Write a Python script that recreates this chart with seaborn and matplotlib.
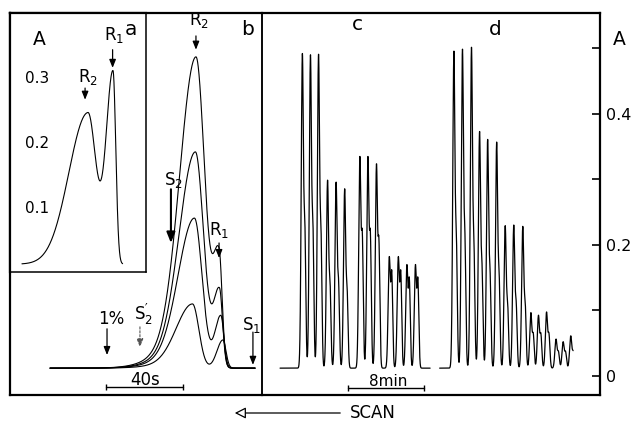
import numpy as np
import pandas as pd
import matplotlib
matplotlib.use("Agg")
import matplotlib.pyplot as plt
import seaborn as sns

# ---------------------------------------------------------------- data
baseline = 0.012                      # recorder baseline, absorbance

# (a) single elution profile: apex times (s) and absorbance of R2, R1
a_peak_t = [40.5, 53.5]
a_peak_A = [0.245, 0.308]

# (b) four overlaid elution profiles (decreasing load), times in s
b_r2_t = [96.6, 96.3, 95.8, 94.8]
b_r2_A = [0.487, 0.342, 0.241, 0.110]
b_r2_tail = [4.6, 4.3, 4.0, 3.3]      # trailing width of R2, s
b_r1_t = [108.6, 108.8, 109.5, 110.6]
b_r1_A = [0.180, 0.130, 0.092, 0.055]

# (c) repeated injections: apex times (min), R2 apex and R1 shoulder absorbance
c_t = [4.25, 5.1, 5.95, 6.9, 7.8, 8.7, 10.3, 11.15, 12.05, 13.4, 14.35, 15.25, 16.15]
c_r2 = [0.489, 0.487, 0.488, 0.297, 0.294, 0.284, 0.332, 0.332, 0.321,
        0.180, 0.180, 0.168, 0.168]
c_r1 = [0.21, 0.21, 0.20, 0.13, 0.13, 0.12, 0.20, 0.20, 0.19,
        0.15, 0.15, 0.14, 0.14]

# (d) repeated injections, second series
d_t = [20.2, 21.1, 22.05, 22.9, 23.75, 24.7, 25.6, 26.5, 27.45,
       28.3, 29.1, 29.95, 30.95, 31.7, 32.5]
d_r2 = [0.493, 0.496, 0.499, 0.371, 0.359, 0.355, 0.228, 0.229, 0.227,
        0.096, 0.092, 0.097, 0.056, 0.052, 0.061]
d_r1 = [0.19, 0.19, 0.18, 0.15, 0.14, 0.14, 0.10, 0.10, 0.10,
        0.06, 0.06, 0.06, 0.035, 0.035, 0.035]

right_ticks = [0, 0.2, 0.4]
right_minor = [0.1, 0.3, 0.5]
inset_ticks = [0.1, 0.2, 0.3]


# ---------------------------------------------------------------- peak shapes
def band(t, t0, s_left, s_right):
    s = np.where(t < t0, s_left, s_right)
    return np.exp(-0.5 * ((t - t0) / s) ** 2)


def profile_a(t):
    y = baseline + (a_peak_A[0] - baseline) * band(t, a_peak_t[0], 9.9, 4.2)
    y += (a_peak_A[1] - baseline) * band(t, a_peak_t[1], 3.6, 1.45)
    return y


def profile_b(t, t2, h2, w2, t1, h1):
    lead = 0.9 * band(t, t2, 8.3, w2) + 0.1 * band(t, t2, 15.6, w2)
    return (baseline + (h2 - baseline) * lead
            + (h1 - baseline) * band(t, t1, 3.1, 1.6))


def injections(t, times, r2, r1):
    y = np.full_like(t, baseline)
    for t0, h2, h1 in zip(times, r2, r1):
        y += (h2 - baseline) * band(t, t0, 0.12, 0.11)
        y += (h1 - baseline) * band(t, t0 + 0.26, 0.09, 0.1)
    return y


ta = np.linspace(6.2, 58.5, 1500)
df_a = pd.DataFrame({"t": ta, "A": profile_a(ta)})

tb = np.linspace(20.8, 127.3, 3000)
df_b = pd.concat([
    pd.DataFrame({"t": tb, "A": profile_b(tb, t2, h2, w2, t1, h1), "run": i})
    for i, (t2, h2, w2, t1, h1) in enumerate(zip(b_r2_t, b_r2_A, b_r2_tail, b_r1_t, b_r1_A))
])

tc = np.arange(1.9, 17.7, 0.004)
td = np.arange(18.7, 32.75, 0.004)
df_cd = pd.concat([
    pd.DataFrame({"t": tc, "A": injections(tc, c_t, c_r2, c_r1), "series": "c"}),
    pd.DataFrame({"t": td, "A": injections(td, d_t, d_r2, d_r1), "series": "d"}),
])

# ---------------------------------------------------------------- style
sns.set_theme(style="white")
plt.rcParams["font.family"] = ["DejaVu Sans"]
plt.rcParams["mathtext.default"] = "regular"

W, H = 633, 421
fig = plt.figure(figsize=(W / 100, H / 100), dpi=100)
fig.patch.set_facecolor("white")

ylim = (-0.029, 0.554)
ax_b = fig.add_axes([10 / W, 26 / H, 252 / W, 382 / H])
ax_cd = fig.add_axes([262 / W, 26 / H, 338 / W, 382 / H])
ax_a = fig.add_axes([10 / W, 149 / H, 136 / W, 259 / H])

line_kw = dict(color="black", estimator=None, sort=False, legend=False)
sns.lineplot(data=df_b, x="t", y="A", units="run", ax=ax_b, linewidth=0.8, **line_kw)
sns.lineplot(data=df_cd, x="t", y="A", units="series", ax=ax_cd, linewidth=0.9, **line_kw)
sns.lineplot(data=df_a, x="t", y="A", ax=ax_a, linewidth=0.8, **line_kw)

for ax in (ax_a, ax_b, ax_cd):
    ax.set_xlabel("")
    ax.set_ylabel("")
    for sp in ax.spines.values():
        sp.set_color("black")
        sp.set_linewidth(1.6)
ax_b.set_facecolor("white")
ax_a.set_facecolor("white")
ax_cd.patch.set_alpha(0)

# panel b
ax_b.set_xlim(0, 252 / 1.925)
ax_b.set_ylim(*ylim)
ax_b.set_xticks([])
ax_b.set_yticks([])
ax_b.spines["right"].set_linewidth(1.1)

# panels c, d with the shared absorbance scale on the right
ax_cd.set_xlim(0, 338 / 9.5)
ax_cd.set_ylim(*ylim)
ax_cd.set_xticks([])
ax_cd.spines["left"].set_linewidth(1.1)
ax_cd.yaxis.tick_right()
ax_cd.set_yticks(right_ticks)
ax_cd.set_yticklabels(["0", "0.2", "0.4"])
ax_cd.set_yticks(right_minor, minor=True)
ax_cd.tick_params(axis="y", which="both", direction="in", length=5.8, width=1.2,
                  pad=4, labelsize=11.5, colors="black", right=True, left=False)

# inset a
ax_a.set_xlim(0, 136 / 1.925)
ax_a.set_ylim(0, 259 / 650)
ax_a.set_xticks([])
ax_a.set_yticks(inset_ticks)
ax_a.set_yticklabels(["0.1", "0.2", "0.3"])
ax_a.tick_params(axis="y", direction="in", length=3.6, width=1.2, pad=-28,
                 labelsize=11, colors="black")
ax_a.spines["right"].set_linewidth(1.1)
ax_a.spines["bottom"].set_linewidth(1.1)

# ---------------------------------------------------------------- annotations
def arrow(ax, x, y_tail, y_tip, lw=0.9, ls="-", color="black", head=(0.35, 0.14)):
    ax.annotate("", xy=(x, y_tip), xytext=(x, y_tail),
                arrowprops=dict(arrowstyle=f"-|>,head_length={head[0]},head_width={head[1]}",
                                lw=lw, ls=ls, color=color, fc=color,
                                shrinkA=0, shrinkB=0, mutation_scale=14))


lab = dict(fontsize=12, ha="center", va="baseline", color="black")
big = dict(fontsize=14.5, ha="center", va="baseline", color="black")

# inset a
ax_a.text(15.3, 0.349, "A", **{**big, "fontsize": 13.5})
ax_a.text(62.9, 0.365, "a", **big)
ax_a.text(53.8, 0.357, r"R$_1$", **lab)
arrow(ax_a, 53.3, 0.342, 0.314)
ax_a.text(40.5, 0.292, r"R$_2$", **lab)
arrow(ax_a, 39.0, 0.283, 0.265)

# panel b
ax_b.text(123.4, 0.521, "b", **big)
ax_b.text(98.2, 0.536, r"R$_2$", **lab)
arrow(ax_b, b_r2_t[0], 0.519, 0.498)
ax_b.text(84.7, 0.292, r"S$_2$", **lab)
arrow(ax_b, 83.6, 0.285, 0.203, lw=1.5, head=(0.45, 0.18))
ax_b.text(108.8, 0.215, r"R$_1$", **lab)
arrow(ax_b, b_r1_t[0], 0.203, 0.180)
ax_b.text(69.6, 0.085, r"S$_2^{\prime}$", **lab)
arrow(ax_b, 67.5, 0.075, 0.044, lw=0.8, ls=(0, (2, 1.5)), color="#555555")
ax_b.text(52.5, 0.079, "1%", **lab)
arrow(ax_b, 50.4, 0.072, 0.032)
ax_b.text(125.7, 0.070, r"S$_1$", **lab)
arrow(ax_b, 126.2, 0.067, 0.017)

# 40 s time bar
ax_b.plot([50, 90], [-0.017, -0.017], color="black", lw=1.0, marker="|",
          markersize=5, markeredgewidth=1.0)
ax_b.text(70, -0.013, "40s", **lab)

# panels c, d
ax_cd.text(10.0, 0.528, "c", **big)
ax_cd.text(24.5, 0.521, "d", **big)
ax_cd.text(37.63, 0.505, "A", clip_on=False, **{**big, "fontsize": 13.5})
ax_cd.plot([9, 17], [-0.018, -0.018], color="black", lw=1.0, marker="|",
           markersize=5, markeredgewidth=1.0)
ax_cd.text(13.26, -0.015, "8min", **{**lab, "fontsize": 11})

# scan direction
fig.text(350 / W, 7.5 / H, "SCAN", fontsize=12, ha="left", va="center", color="black")
fig.add_artist(matplotlib.patches.FancyArrowPatch(
    (343 / W, 8 / H), (232 / W, 8 / H), transform=fig.transFigure,
    arrowstyle="-|>,head_length=0.55,head_width=0.28", mutation_scale=12,
    lw=0.9, ec="black", fc="white"))

fig.savefig("out.png", dpi=100, facecolor="white")
